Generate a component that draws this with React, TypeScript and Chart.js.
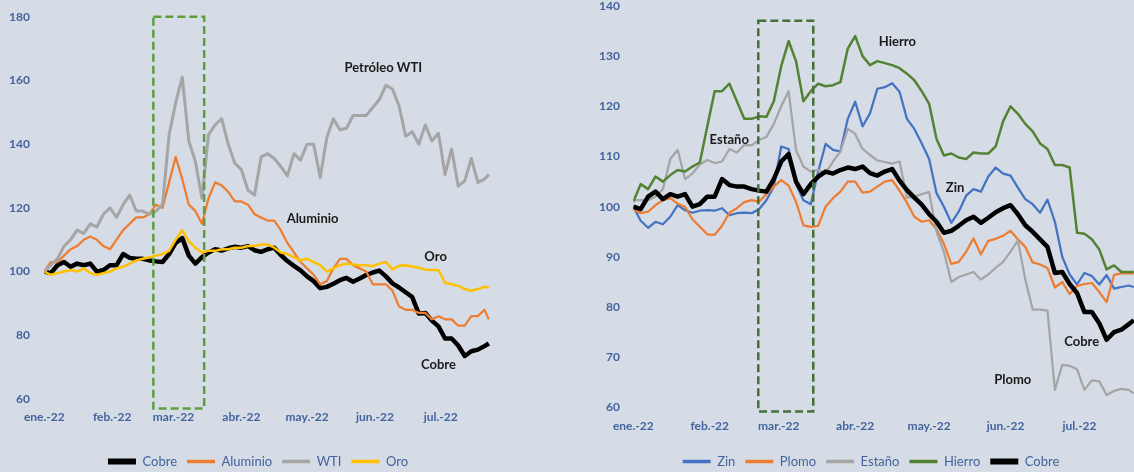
import React, { useEffect, useRef } from 'react';
import { Chart, registerables } from 'chart.js';

Chart.register(...registerables);

// Sample dates as day offsets from 1 Jan 2022
const DAYS = [0, 3, 6, 9, 12, 15, 18, 21, 24, 27, 30, 33, 36, 39, 42, 45, 48, 51, 54, 57, 60, 63, 66, 69, 72, 75, 78, 81, 84, 87, 90, 93, 96, 99, 102, 105, 108, 111, 114, 117, 120, 123, 126, 129, 132, 135, 138, 141, 144, 147, 150, 153, 156, 159, 162, 165, 168, 171, 174, 177, 180, 183, 186, 189, 192, 195, 198, 201, 203];

// Month tick positions (day offsets) and labels
const MONTH_TICKS = [0, 31, 59, 90, 120, 151, 181];
const MONTH_LABELS = ['ene.-22', 'feb.-22', 'mar.-22', 'abr.-22', 'may.-22', 'jun.-22', 'jul.-22'];

// Left panel y ticks
const LEFT_Y = { min: 60, max: 180, step: 20 };
// Right panel y ticks
const RIGHT_Y = { min: 60, max: 140, step: 10 };

// Series (index 100)
const COBRE = [100, 99.5, 102, 103, 101.5, 102.5, 102, 102.5, 100, 100.5, 102, 102, 105.5, 104.3, 104, 104, 103.5, 103.2, 103, 105.5, 109, 110.5, 105, 102.5, 104.5, 106, 107, 106.6, 107.3, 107.8, 107.5, 108, 106.7, 106.2, 107, 107.5, 105.2, 103.3, 101.8, 100.4, 98.5, 97, 94.8, 95.2, 96.2, 97.3, 98, 96.8, 97.8, 98.9, 99.7, 100.3, 98.5, 96.3, 95, 93.5, 92, 86.8, 87, 84.6, 82.8, 79, 79, 76.8, 73.5, 75, 75.5, 76.6, 77.4];
const ALUMINIO = [100, 103, 103, 105, 107, 108, 110, 111, 110, 108, 107, 110, 113, 115, 117, 117, 118, 121, 120, 128, 136, 129, 121, 119, 115, 123, 128, 127, 125, 122, 122, 121, 118, 117, 116, 116, 113, 109, 106, 103, 101, 99, 96, 97, 101, 104, 104, 102, 101, 100, 96, 96, 96, 94, 89, 88, 88, 87, 87, 85, 86, 85, 85, 83, 83, 86, 86, 88, 85];
const WTI = [100, 102, 104, 108, 110, 113, 112, 115, 114, 118, 120, 117, 121, 124, 119, 119, 118, 119, 121, 143, 153, 161, 141, 134.5, 123, 143, 146, 148, 140, 134, 132, 125.5, 124, 136, 137, 135.5, 133, 130, 137, 135, 140, 140, 129.5, 142, 148, 144.5, 145, 149, 149, 149, 151.5, 154, 158.5, 157.3, 152, 142.5, 143.9, 140, 146, 141, 143.4, 130.5, 138.5, 126.8, 128.5, 135.5, 128, 129, 130.5];
const ORO = [100, 99, 99.5, 100, 100.5, 100, 101, 99.5, 99, 99.5, 100, 101, 101.5, 102.5, 103.5, 104, 104.5, 105, 105.5, 106.5, 110, 113, 109.5, 107.5, 106, 106.5, 106.5, 107, 107, 107.5, 107.5, 108, 108, 108.5, 108.5, 107.5, 106, 105.5, 104.5, 103.5, 104, 103, 102, 100, 101, 102, 102.5, 102.2, 102, 102, 101.7, 102.5, 103, 100.7, 101.8, 102, 101.6, 101.2, 100.6, 100.5, 100.5, 96.5, 96, 95.5, 94.5, 94, 94.5, 95.2, 95];

const ZIN = [100, 97.2, 95.8, 97, 96.5, 98, 100.3, 99.3, 98.8, 99.2, 99.3, 99.2, 99.7, 98.3, 98.7, 98.8, 98.7, 99.5, 101.3, 104, 112, 111.5, 104.5, 101.3, 100.5, 107, 112.5, 111.3, 111, 117.5, 120.9, 116, 118.6, 123.5, 123.8, 124.6, 122.9, 117.5, 115.5, 112.6, 109.5, 102.7, 100, 96.8, 99, 102.2, 103.5, 103, 106, 107.8, 106.6, 106.2, 103.8, 101.5, 100.5, 98.8, 101.4, 97, 90, 86.5, 84.5, 86.8, 86.2, 84.5, 86.4, 83.7, 84, 84.3, 84];
const PLOMO = [99.5, 98.7, 99, 100.3, 101.3, 101.7, 100.6, 100, 97.5, 96, 94.5, 94.4, 96.2, 98.8, 99.7, 100.9, 101.3, 101, 102.5, 104, 105.3, 104.2, 101, 96.3, 96, 96.2, 100, 101.7, 103, 105, 105, 102.8, 103, 104, 105, 105.3, 103.2, 100.8, 98, 97, 97.3, 95.5, 92.6, 88.6, 89, 91, 93.7, 90.5, 93.2, 93.6, 94.2, 95.2, 93.5, 92, 88.9, 88.5, 87.8, 83.9, 85, 82.6, 84.2, 84.6, 84.8, 83, 81, 86.4, 86.7, 86.7, 86.7];
const ESTANO = [101.3, 101.3, 101.3, 102, 103.5, 109.5, 111.3, 105.5, 106.6, 108.4, 109.3, 108.7, 109, 111.5, 110.8, 112.3, 112.2, 113.3, 113.9, 116.5, 120, 123, 111.3, 108, 107, 107.3, 106.7, 109, 111, 115.5, 114.5, 111.5, 110.3, 109.2, 108.9, 108.6, 109, 101.8, 102, 102.5, 102.9, 95, 91, 85, 86, 86.5, 87, 85.5, 86.5, 87.8, 89, 91, 93.3, 85.5, 79.5, 79.5, 79.3, 63.5, 68.5, 68.3, 67.6, 63.5, 65.4, 65.2, 62.5, 63.3, 63.7, 63.5, 62.8];
const HIERRO = [101, 104.5, 103.5, 106, 105, 106.3, 107.3, 107, 108, 108.8, 116, 123, 123, 124.5, 121, 117.5, 117.5, 118, 117.9, 121, 128, 133, 129, 121, 123, 124.5, 124, 124.2, 124.8, 131.5, 134, 130, 128.2, 129, 128.6, 128.2, 127.6, 126.5, 125.2, 123, 120.5, 113.5, 110.2, 110.6, 109.8, 109.5, 110.8, 110.6, 110.6, 112, 117, 120, 118.5, 116.5, 115, 112.6, 111.5, 108.3, 108.3, 107.8, 94.8, 94.6, 93.5, 91.5, 87.5, 88.3, 87, 87, 87];

// In-chart labels
const LEFT_NOTES = [
  { text: 'Petróleo WTI', x: 154.8, y: 163.8 },
  { text: 'Aluminio', x: 122.5, y: 116.5 },
  { text: 'Oro', x: 178.7, y: 104.5 },
  { text: 'Cobre', x: 180, y: 70.6 },
];
const RIGHT_NOTES = [
  { text: 'Estaño', x: 38.9, y: 113.3 },
  { text: 'Hierro', x: 107.1, y: 132.9 },
  { text: 'Zin', x: 130.5, y: 103.8 },
  { text: 'Cobre', x: 181.9, y: 73.1 },
  { text: 'Plomo', x: 153.9, y: 65.5 },
];
// Highlight window (days, values)
const LEFT_BOX = { x0: 49.8, x1: 73, yTop: 180, yBottom: 57.05 };
const RIGHT_BOX = { x0: 50.7, x1: 73, yTop: 137.05, yBottom: 59.2 };

const BG = '#D6DCE5';
const AXIS_COLOR = '#43639E';
const FONT = 'Lato';

const toPts = (arr: number[]) => arr.map((v, i) => ({ x: DAYS[i], y: v }));

const annotPlugin = {
  id: 'annot',
  afterLayout(chart: any, _args: any, opts: any) {
    if (chart.legend && opts.legendDx) {
      chart.legend.left += opts.legendDx;
      chart.legend.right += opts.legendDx;
    }
  },
  afterDatasetsDraw(chart: any, _args: any, opts: any) {
    const { ctx } = chart;
    const x = chart.scales.x;
    const y = chart.scales.y;
    ctx.save();
    if (opts.box) {
      const b = opts.box;
      ctx.strokeStyle = opts.boxColor;
      ctx.lineWidth = 2.5;
      ctx.setLineDash([8, 4]);
      const x1 = x.getPixelForValue(b.x0);
      const x2 = x.getPixelForValue(b.x1);
      const y1 = y.getPixelForValue(b.yTop);
      const y2 = y.getPixelForValue(b.yBottom);
      ctx.strokeRect(x1, y1, x2 - x1, y2 - y1);
    }
    ctx.setLineDash([]);
    ctx.font = `bold 13px ${FONT}`;
    ctx.fillStyle = '#1a1a1a';
    ctx.textAlign = 'center';
    ctx.textBaseline = 'middle';
    for (const l of opts.notes || []) {
      ctx.fillText(l.text, x.getPixelForValue(l.x), y.getPixelForValue(l.y));
    }
    ctx.restore();
  },
};

type Series = { label: string; data: number[]; color: string; width: number };

function makeConfig(series: Series[], p: any) {
  const n = series.length;
  return {
    type: 'line' as const,
    data: {
      datasets: series.map((s, i) => ({
        label: s.label,
        data: toPts(s.data),
        borderColor: s.color,
        backgroundColor: s.color,
        borderWidth: s.width,
        pointRadius: 0,
        tension: 0,
        borderJoinStyle: 'round' as const,
        order: n - i,
      })),
    },
    plugins: [annotPlugin],
    options: {
      responsive: false,
      animation: false as const,
      devicePixelRatio: 1,
      layout: { padding: p.padding, autoPadding: false },
      scales: {
        x: {
          type: 'linear' as const,
          min: 0,
          max: p.xMax,
          grid: { display: false, drawTicks: false },
          border: { display: false },
          afterBuildTicks: (s: any) => {
            s.ticks = MONTH_TICKS.map((v) => ({ value: v }));
          },
          afterFit: (s: any) => {
            s.height = p.xHeight;
            s.paddingLeft = 0;
            s.paddingRight = 0;
          },
          ticks: {
            autoSkip: false,
            maxRotation: 0,
            padding: p.xPad,
            color: AXIS_COLOR,
            font: { family: FONT, size: 12, weight: 'bold' as const },
            callback: (v: any) => {
              const k = MONTH_TICKS.indexOf(Number(v));
              return k >= 0 ? MONTH_LABELS[k] : '';
            },
          },
        },
        y: {
          min: p.y.min,
          max: p.y.max,
          grid: { display: false, drawTicks: false },
          border: { display: false },
          afterFit: (s: any) => {
            s.width = p.yWidth;
            s.paddingTop = 0;
            s.paddingBottom = 0;
          },
          ticks: {
            stepSize: p.y.step,
            padding: p.yPad,
            color: AXIS_COLOR,
            font: { family: FONT, size: 12, weight: 'bold' as const },
          },
        },
      },
      plugins: {
        tooltip: { enabled: false },
        legend: {
          position: 'bottom' as const,
          labels: {
            boxWidth: 28,
            boxHeight: 0,
            padding: 10,
            color: AXIS_COLOR,
            font: { family: FONT, size: 13 },
            sort: (a: any, b: any) => a.datasetIndex - b.datasetIndex,
            generateLabels: (chart: any) =>
              chart.data.datasets.map((ds: any, i: number) => ({
                text: ds.label,
                fillStyle: ds.borderColor,
                strokeStyle: ds.borderColor,
                lineWidth: ds.borderWidth > 4 ? 6 : 3.5,
                fontColor: AXIS_COLOR,
                hidden: false,
                datasetIndex: i,
              })),
          },
        },
        annot: { notes: p.notes, box: p.box, boxColor: p.boxColor, legendDx: p.legendDx },
      },
    },
  };
}

const LEFT_SERIES: Series[] = [
  { label: 'Cobre', data: COBRE, color: '#000000', width: 4.5 },
  { label: 'Aluminio', data: ALUMINIO, color: '#ED7D31', width: 2.25 },
  { label: 'WTI', data: WTI, color: '#A5A5A5', width: 3 },
  { label: 'Oro', data: ORO, color: '#FFC000', width: 2.5 },
];
const RIGHT_SERIES: Series[] = [
  { label: 'Zin', data: ZIN, color: '#4472C4', width: 2.25 },
  { label: 'Plomo', data: PLOMO, color: '#ED7D31', width: 2.25 },
  { label: 'Estaño', data: ESTANO, color: '#A5A5A5', width: 2.25 },
  { label: 'Hierro', data: HIERRO, color: '#548235', width: 2.5 },
  { label: 'Cobre', data: COBRE, color: '#000000', width: 4.5 },
];

const H = 478;

export default function App() {
  const leftRef = useRef<HTMLCanvasElement>(null);
  const rightRef = useRef<HTMLCanvasElement>(null);

  useEffect(() => {
    const left = new Chart(
      leftRef.current as HTMLCanvasElement,
      makeConfig(LEFT_SERIES, {
        padding: { left: 0, right: 51, top: 16.7, bottom: 0 },
        xMax: 215.4,
        xHeight: 46,
        xPad: 10.5,
        yWidth: 44.3,
        yPad: 14.3,
        y: LEFT_Y,
        notes: LEFT_NOTES,
        box: LEFT_BOX,
        boxColor: '#5E9E40',
        legendDx: 0,
      }) as any
    );
    const right = new Chart(
      rightRef.current as HTMLCanvasElement,
      makeConfig(RIGHT_SERIES, {
        padding: { left: 30, right: 0, top: 5.9, bottom: 0 },
        xMax: 203.1,
        xHeight: 37.5,
        xPad: 11.3,
        yWidth: 36.3,
        yPad: 13.3,
        y: RIGHT_Y,
        notes: RIGHT_NOTES,
        box: RIGHT_BOX,
        boxColor: '#45703A',
        legendDx: 5.5,
      }) as any
    );
    return () => {
      left.destroy();
      right.destroy();
    };
  }, []);

  return (
    <div
      style={{
        position: 'fixed',
        left: 0,
        top: 0,
        width: 1134,
        height: 472,
        background: BG,
        overflow: 'hidden',
      }}
    >
      <canvas
        ref={leftRef}
        width={567}
        height={H}
        style={{ position: 'absolute', left: 0, top: 0, width: 567, height: H }}
      />
      <canvas
        ref={rightRef}
        width={567}
        height={H}
        style={{ position: 'absolute', left: 567, top: 0, width: 567, height: H }}
      />
    </div>
  );
}
